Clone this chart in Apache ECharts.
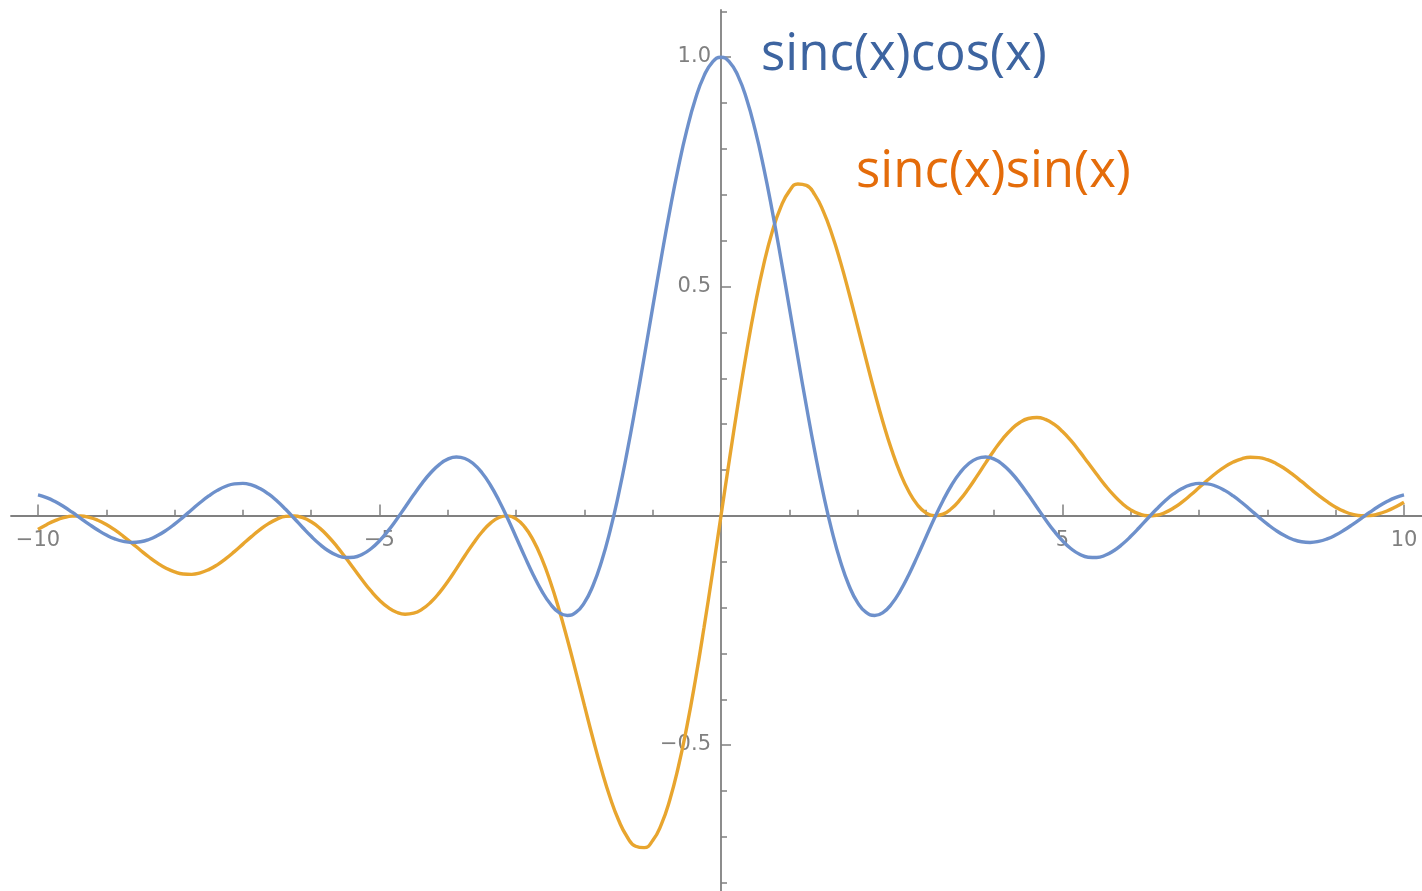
<!DOCTYPE html>
<html>
<head>
<meta charset="utf-8">
<script src="https://cdn.jsdelivr.net/npm/echarts@6/dist/echarts.min.js"></script>
<style>
html,body{margin:0;padding:0;background:#ffffff;}
#chart{width:1422px;height:891px;}
</style>
</head>
<body>
<div id="chart"></div>
<script>
// sample positions along x (one row per unit)
const xValues = [
  -10, -9.875, -9.75, -9.625, -9.5, -9.375, -9.25, -9.125,
  -9, -8.875, -8.75, -8.625, -8.5, -8.375, -8.25, -8.125,
  -8, -7.875, -7.75, -7.625, -7.5, -7.375, -7.25, -7.125,
  -7, -6.875, -6.75, -6.625, -6.5, -6.375, -6.25, -6.125,
  -6, -5.875, -5.75, -5.625, -5.5, -5.375, -5.25, -5.125,
  -5, -4.875, -4.75, -4.625, -4.5, -4.375, -4.25, -4.125,
  -4, -3.875, -3.75, -3.625, -3.5, -3.375, -3.25, -3.125,
  -3, -2.875, -2.75, -2.625, -2.5, -2.375, -2.25, -2.125,
  -2, -1.875, -1.75, -1.625, -1.5, -1.375, -1.25, -1.125,
  -1, -0.875, -0.75, -0.625, -0.5, -0.375, -0.25, -0.125,
  0, 0.125, 0.25, 0.375, 0.5, 0.625, 0.75, 0.875,
  1, 1.125, 1.25, 1.375, 1.5, 1.625, 1.75, 1.875,
  2, 2.125, 2.25, 2.375, 2.5, 2.625, 2.75, 2.875,
  3, 3.125, 3.25, 3.375, 3.5, 3.625, 3.75, 3.875,
  4, 4.125, 4.25, 4.375, 4.5, 4.625, 4.75, 4.875,
  5, 5.125, 5.25, 5.375, 5.5, 5.625, 5.75, 5.875,
  6, 6.125, 6.25, 6.375, 6.5, 6.625, 6.75, 6.875,
  7, 7.125, 7.25, 7.375, 7.5, 7.625, 7.75, 7.875,
  8, 8.125, 8.25, 8.375, 8.5, 8.625, 8.75, 8.875,
  9, 9.125, 9.25, 9.375, 9.5, 9.625, 9.75, 9.875,
  10
];
// sinc(x)cos(x)
const cosValues = [
  0.0456, 0.0397, 0.0311, 0.0203, 0.0079, -0.0053, -0.0185, -0.0309,
  -0.0417, -0.0502, -0.0558, -0.0580, -0.0566, -0.0516, -0.0431, -0.0318,
  -0.0180, -0.0027, 0.0133, 0.0290, 0.0434, 0.0555, 0.0645, 0.0697,
  0.0708, 0.0673, 0.0595, 0.0477, 0.0323, 0.0143, -0.0053, -0.0254,
  -0.0447, -0.0620, -0.0761, -0.0860, -0.0909, -0.0902, -0.0838, -0.0717,
  -0.0544, -0.0328, -0.0079, 0.0188, 0.0458, 0.0714, 0.0939, 0.1118,
  0.1237, 0.1283, 0.1251, 0.1135, 0.0939, 0.0667, 0.0331, -0.0053,
  -0.0466, -0.0884, -0.1283, -0.1636, -0.1918, -0.2104, -0.2172, -0.2106,
  -0.1892, -0.1524, -0.1002, -0.0333, 0.0470, 0.1388, 0.2394, 0.3458,
  0.4546, 0.5623, 0.6650, 0.7592, 0.8415, 0.9089, 0.9589, 0.9896,
  1.0000, 0.9896, 0.9589, 0.9089, 0.8415, 0.7592, 0.6650, 0.5623,
  0.4546, 0.3458, 0.2394, 0.1388, 0.0470, -0.0333, -0.1002, -0.1524,
  -0.1892, -0.2106, -0.2172, -0.2104, -0.1918, -0.1636, -0.1283, -0.0884,
  -0.0466, -0.0053, 0.0331, 0.0667, 0.0939, 0.1135, 0.1251, 0.1283,
  0.1237, 0.1118, 0.0939, 0.0714, 0.0458, 0.0188, -0.0079, -0.0328,
  -0.0544, -0.0717, -0.0838, -0.0902, -0.0909, -0.0860, -0.0761, -0.0620,
  -0.0447, -0.0254, -0.0053, 0.0143, 0.0323, 0.0477, 0.0595, 0.0673,
  0.0708, 0.0697, 0.0645, 0.0555, 0.0434, 0.0290, 0.0133, -0.0027,
  -0.0180, -0.0318, -0.0431, -0.0516, -0.0566, -0.0580, -0.0558, -0.0502,
  -0.0417, -0.0309, -0.0185, -0.0053, 0.0079, 0.0203, 0.0311, 0.0397,
  0.0456
];
// sinc(x)sin(x)
const sinValues = [
  -0.0296, -0.0192, -0.0105, -0.0041, -0.0006, -0.0003, -0.0033, -0.0096,
  -0.0189, -0.0308, -0.0446, -0.0596, -0.0750, -0.0898, -0.1032, -0.1143,
  -0.1224, -0.1269, -0.1276, -0.1244, -0.1173, -0.1068, -0.0934, -0.0781,
  -0.0617, -0.0453, -0.0300, -0.0170, -0.0071, -0.0013, -0.0002, -0.0041,
  -0.0130, -0.0268, -0.0450, -0.0665, -0.0905, -0.1156, -0.1405, -0.1638,
  -0.1839, -0.1998, -0.2102, -0.2146, -0.2123, -0.2035, -0.1885, -0.1680,
  -0.1432, -0.1156, -0.0871, -0.0596, -0.0352, -0.0159, -0.0036, -0.0001,
  -0.0066, -0.0241, -0.0530, -0.0929, -0.1433, -0.2026, -0.2691, -0.3403,
  -0.4134, -0.4855, -0.5533, -0.6136, -0.6633, -0.6998, -0.7205, -0.7236,
  -0.7081, -0.6733, -0.6195, -0.5477, -0.4597, -0.3578, -0.2448, -0.1244,
  0, 0.1244, 0.2448, 0.3578, 0.4597, 0.5477, 0.6195, 0.6733,
  0.7081, 0.7236, 0.7205, 0.6998, 0.6633, 0.6136, 0.5533, 0.4855,
  0.4134, 0.3403, 0.2691, 0.2026, 0.1433, 0.0929, 0.0530, 0.0241,
  0.0066, 0.0001, 0.0036, 0.0159, 0.0352, 0.0596, 0.0871, 0.1156,
  0.1432, 0.1680, 0.1885, 0.2035, 0.2123, 0.2146, 0.2102, 0.1998,
  0.1839, 0.1638, 0.1405, 0.1156, 0.0905, 0.0665, 0.0450, 0.0268,
  0.0130, 0.0041, 0.0002, 0.0013, 0.0071, 0.0170, 0.0300, 0.0453,
  0.0617, 0.0781, 0.0934, 0.1068, 0.1173, 0.1244, 0.1276, 0.1269,
  0.1224, 0.1143, 0.1032, 0.0898, 0.0750, 0.0596, 0.0446, 0.0308,
  0.0189, 0.0096, 0.0033, 0.0003, 0.0006, 0.0041, 0.0105, 0.0192,
  0.0296
];
const seriesNames = ['sinc(x)cos(x)', 'sinc(x)sin(x)'];
// tick labels shown on each axis (others left blank)
const xTickLabels = {'-10': '\u221210', '-5': '\u22125', '5': '5', '10': '10'};
const yTickLabels = {'-0.5': '\u22120.5', '0.5': '0.5', '1': '1.0'};

const AXIS_COLOR = '#808080';
const LABEL_COLOR = '#808080';

function pairs(ys) { return xValues.map((x, i) => [x, ys[i]]); }
function lookup(table, v) {
  const key = String(Math.round(v * 1000) / 1000);
  return Object.prototype.hasOwnProperty.call(table, key) ? table[key] : '';
}

const chart = echarts.init(document.getElementById('chart'), null, {renderer: 'canvas'});
const titleStyle = {fontFamily: 'Open Sans', fontSize: 51, fontWeight: 'normal'};
const tickStyle = {color: AXIS_COLOR, width: 1.5};
const labelStyle = {color: LABEL_COLOR, fontFamily: 'DejaVu Sans', fontSize: 21};
const hiddenAxis = {show: false, axisLine: {onZero: false}};

chart.setOption({
  animation: false,
  backgroundColor: '#ffffff',
  title: [
    {text: seriesNames[0], left: 761, top: 30, padding: 0,
     textStyle: Object.assign({color: '#3d64a0'}, titleStyle)},
    {text: seriesNames[1], left: 856, top: 147, padding: 0,
     textStyle: Object.assign({color: '#e46c0a'}, titleStyle)}
  ],
  grid: [
    // 0: data grid (x -10..10, y -0.8..1.1) with the minor ticks
    {left: 38, right: 18, top: 11.4, bottom: 8.3, containLabel: false, outerBoundsMode: 'none'},
    // 1: x major ticks + labels (its bottom edge is the x axis)
    {left: 38, right: 18, top: 100, bottom: 375.4, containLabel: false, outerBoundsMode: 'none'},
    // 2: y major ticks + labels (its left edge is the y axis)
    {left: 721, right: 0, top: 57, bottom: 146.1, containLabel: false, outerBoundsMode: 'none'},
    // 3: long axis lines
    {left: 11, right: 0, top: 10, bottom: 0, containLabel: false, outerBoundsMode: 'none'}
  ],
  xAxis: [
    {
      type: 'value', gridIndex: 0, min: -10, max: 10, interval: 1,
      axisLine: {show: false, onZero: true},
      axisTick: {show: true, inside: true, length: 6, lineStyle: tickStyle},
      axisLabel: {show: false}, splitLine: {show: false}
    },
    {
      type: 'value', gridIndex: 1, min: -10, max: 10, interval: 5, position: 'bottom',
      axisLine: {show: false, onZero: true},
      axisTick: {show: true, inside: true, length: 11, lineStyle: tickStyle},
      axisLabel: Object.assign({show: true, margin: 14, formatter: v => lookup(xTickLabels, v)}, labelStyle),
      splitLine: {show: false}
    },
    Object.assign({type: 'value', gridIndex: 2, min: 0, max: 1}, hiddenAxis),
    {
      type: 'value', gridIndex: 3, min: -10.395, max: 10.264,
      axisLine: {show: true, onZero: true, lineStyle: {color: AXIS_COLOR, width: 1.8}},
      axisTick: {show: false}, axisLabel: {show: false}, splitLine: {show: false}
    }
  ],
  yAxis: [
    {
      type: 'value', gridIndex: 0, min: -0.8, max: 1.1, interval: 0.1,
      axisLine: {show: false, onZero: true},
      axisTick: {show: true, inside: true, length: 6, lineStyle: tickStyle},
      axisLabel: {show: false}, splitLine: {show: false}
    },
    Object.assign({type: 'value', gridIndex: 1, min: 0, max: 1}, hiddenAxis),
    {
      type: 'value', gridIndex: 2, min: -0.5, max: 1.0, interval: 0.5, position: 'left',
      axisLine: {show: false, onZero: true},
      axisTick: {show: true, inside: true, length: 10, lineStyle: tickStyle},
      axisLabel: Object.assign({show: true, margin: 10, formatter: v => lookup(yTickLabels, v)}, labelStyle),
      splitLine: {show: false}
    },
    {
      type: 'value', gridIndex: 3, min: -0.8186, max: 1.1025,
      axisLine: {show: true, onZero: true, lineStyle: {color: AXIS_COLOR, width: 1.8}},
      axisTick: {show: false}, axisLabel: {show: false}, splitLine: {show: false}
    }
  ],
  series: [
    {
      name: seriesNames[1], type: 'line', xAxisIndex: 0, yAxisIndex: 0,
      data: pairs(sinValues), smooth: true, showSymbol: false, symbol: 'none', clip: false,
      lineStyle: {color: '#e8a52e', width: 3.4}, z: 3
    },
    {
      name: seriesNames[0], type: 'line', xAxisIndex: 0, yAxisIndex: 0,
      data: pairs(cosValues), smooth: true, showSymbol: false, symbol: 'none', clip: false,
      lineStyle: {color: '#6d90cb', width: 3.4}, z: 4
    }
  ]
});
</script>
</body>
</html>
